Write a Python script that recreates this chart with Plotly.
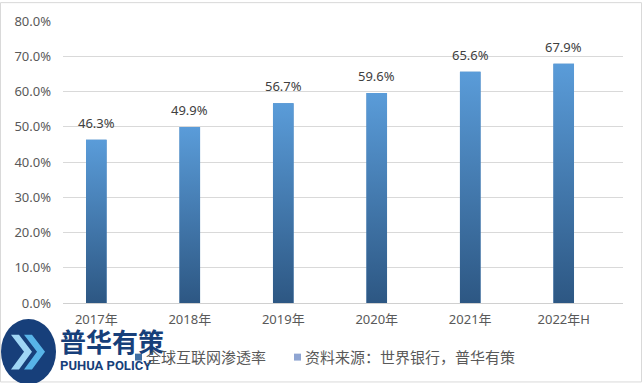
import plotly.graph_objects as go

categories = ["2017年", "2018年", "2019年", "2020年", "2021年", "2022年H"]
values = [46.3, 49.9, 56.7, 59.6, 65.6, 67.9]
y_ticks = [0, 10, 20, 30, 40, 50, 60, 70, 80]
series_name = "全球互联网渗透率"
source_name = "资料来源：世界银行，普华有策"

W, H = 642, 383
L, R, T, B = 63, 19, 19, 80
FONT = "Noto Sans, Noto Sans CJK SC, sans-serif"
GREY = "#595959"
BAR_W = 0.22

fig = go.Figure()

fig.add_trace(go.Bar(
    x=list(range(len(categories))), y=values, width=BAR_W,
    name=series_name,
    marker=dict(color="#4a83bd", line=dict(width=0)),
    hoverinfo="y", showlegend=False,
))

# gradient overlay for each bar
for i, v in enumerate(values):
    x0, x1 = i - BAR_W / 2, i + BAR_W / 2
    fig.add_trace(go.Scatter(
        x=[x0, x1, x1, x0, x0], y=[0, 0, v, v, 0],
        mode="lines", line=dict(width=0), fill="toself",
        fillgradient=dict(type="vertical",
                          colorscale=[[0, "#2d5783"], [1, "#5a9cd9"]]),
        hoverinfo="skip", showlegend=False,
    ))

# data labels
for i, v in enumerate(values):
    fig.add_annotation(x=i, y=v, text=f"{v:.1f}%", showarrow=False,
                       yanchor="bottom", yshift=6,
                       font=dict(size=13, color="#404040", family=FONT))

fig.update_layout(
    width=W, height=H,
    margin=dict(l=L, r=R, t=T, b=B),
    paper_bgcolor="white", plot_bgcolor="white",
    font=dict(family=FONT, size=13, color=GREY),
    barmode="overlay",
    showlegend=False,
    xaxis=dict(
        range=[-0.356, 5.634], tickmode="array",
        tickvals=list(range(len(categories))), ticktext=categories,
        showgrid=False, zeroline=False, showline=False, ticks="",
        tickfont=dict(size=13, color=GREY), ticklabelstandoff=7,
    ),
    yaxis=dict(
        range=[0, 80], tickmode="array", tickvals=y_ticks,
        ticktext=[f"{t:.1f}%" for t in y_ticks],
        showgrid=True, gridcolor="#d9d9d9", gridwidth=1,
        zeroline=True, zerolinecolor="#d0d0d0", zerolinewidth=1,
        showline=False, ticks="", ticklen=0,
        tickfont=dict(size=13, color=GREY), ticklabelstandoff=11,
    ),
)

def px2paper(px, py):
    return (px - L) / (W - L - R), (H - B - py) / (H - T - B)

# outer border
bx0, by0 = px2paper(0.5, H - 0.5)
bx1, by1 = px2paper(W - 0.5, 0.5)
fig.add_shape(type="rect", xref="paper", yref="paper", x0=bx0, y0=by0,
              x1=bx1, y1=by1, line=dict(color="#d9d9d9", width=1),
              layer="below")

# logo approximation
cx0, cy0 = px2paper(1, 385)
cx1, cy1 = px2paper(56, 319)
fig.add_shape(type="circle", xref="paper", yref="paper", x0=cx0, y0=cy0,
              x1=cx1, y1=cy1, fillcolor="#173f7a", line=dict(width=0))
for off in (0, 13):
    pts = [(11 + off, 335), (24 + off, 352), (11 + off, 370),
           (19 + off, 370), (32 + off, 352), (19 + off, 335)]
    path = "M " + " L ".join(
        f"{px2paper(a, b)[0]:.4f},{px2paper(a, b)[1]:.4f}" for a, b in pts) + " Z"
    fig.add_shape(type="path", xref="paper", yref="paper", path=path,
                  fillcolor="#58b4e8" if off else "#9fd6f5", line=dict(width=0))
tx, ty = px2paper(58, 341)
fig.add_annotation(xref="paper", yref="paper", x=tx, y=ty, xanchor="left",
                   yanchor="middle", showarrow=False, text="<b>普华有策</b>",
                   font=dict(size=26, color="#173f7a",
                             family="Noto Sans CJK SC"))
tx, ty = px2paper(58, 366)
fig.add_annotation(xref="paper", yref="paper", x=tx, y=ty, xanchor="left",
                   yanchor="middle", showarrow=False, text="<b>PUHUA POLICY</b>",
                   font=dict(size=13, color="#173f7a",
                             family="Roboto, sans-serif"))

# legend (manual)
legend_items = [(series_name, "#3f6fa3", 135), (source_name, "#8fa5d2", 294)]
for name, color, px in legend_items:
    sx0, sy0 = px2paper(px, 361)
    sx1, sy1 = px2paper(px + 7, 354)
    fig.add_shape(type="rect", xref="paper", yref="paper", x0=sx0, y0=sy0,
                  x1=sx1, y1=sy1, fillcolor=color, line=dict(width=0))
    tx, ty = px2paper(px + 9, 357)
    fig.add_annotation(xref="paper", yref="paper", x=tx, y=ty, xanchor="left",
                       yanchor="middle", showarrow=False, text=name,
                       font=dict(size=15, color=GREY, family=FONT))

fig.write_html("out.html", config={"displayModeBar": False},
               post_script="document.body.style.margin='0';")
